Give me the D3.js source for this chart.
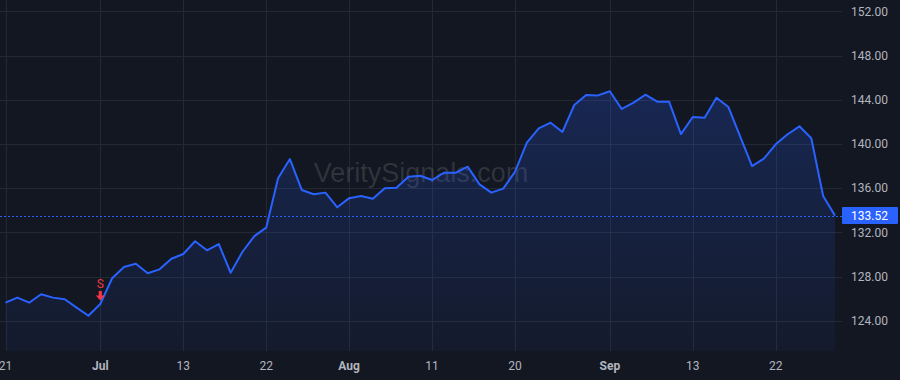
<!DOCTYPE html>
<html>
<head>
<meta charset="utf-8">
<script src="https://cdn.jsdelivr.net/npm/d3@7"></script>
<style>
  html, body { margin: 0; padding: 0; background: #131722; }
  svg { display: block; font-family: Roboto, "Liberation Sans", sans-serif; }
</style>
</head>
<body>
<div class="canvas"></div>
<script>
// daily closes, one per bar
const closes = [
  125.64, 126.10, 125.64, 126.40, 126.10, 125.95, 125.19, 124.46, 125.52, 127.85,
  128.87, 129.17, 128.30, 128.66, 129.62, 130.05, 131.20, 130.38, 130.95, 128.35,
  130.25, 131.67, 132.43, 136.90, 138.64, 135.84, 135.45, 135.60, 134.27, 135.10,
  135.30, 135.05, 135.99, 136.05, 137.04, 137.13, 136.74, 137.40, 137.40, 137.95,
  136.35, 135.60, 135.96, 137.50, 140.12, 141.42, 141.93, 141.09, 143.53, 144.43,
  144.40, 144.77, 143.17, 143.74, 144.46, 143.83, 143.83, 140.90, 142.44, 142.38,
  144.19, 143.35, 140.66, 138.00, 138.67, 139.97, 140.88, 141.60, 140.52, 135.29,
  133.52
];

// time axis: bar index of each tick and its label
const xTickBars = [0, 8, 15, 22, 29, 36, 43, 51, 58, 65];
const xTickLabels = ['21', 'Jul', '13', '22', 'Aug', '11', '20', 'Sep', '13', '22'];
const monthLabels = ['Jul', 'Aug', 'Sep'];

const priceTicks = [124, 128, 132, 136, 140, 144, 148, 152];
const lastPrice = 133.52;

// signal markers
const signalBars = [8];
const signalText = ['S'];

const dims = {width: 900, height: 380};
const plot = {right: 842, bottom: 351};

const svg = d3.select('.canvas')
  .append('svg')
  .attr('width', dims.width)
  .attr('height', dims.height);

svg.append('rect')
  .attr('width', dims.width)
  .attr('height', dims.height)
  .attr('fill', '#131722');

const x = d3.scaleLinear()
  .domain([0, closes.length - 1])
  .range([5.5, 835]);

const y = d3.scaleLinear()
  .domain([121.27, 153.03])
  .range([plot.bottom, 0]);

// gradient under the line
const defs = svg.append('defs');
const grad = defs.append('linearGradient')
  .attr('id', 'areaFill')
  .attr('x1', 0).attr('y1', 0).attr('x2', 0).attr('y2', 1);
grad.append('stop').attr('offset', '0%').attr('stop-color', '#2962ff').attr('stop-opacity', 0.22);
grad.append('stop').attr('offset', '100%').attr('stop-color', '#2962ff').attr('stop-opacity', 0.05);

// grid
const grid = svg.append('g');
grid.selectAll('line.h')
  .data(priceTicks)
  .enter().append('line')
    .attr('x1', 0).attr('x2', plot.right)
    .attr('y1', d => Math.round(y(d)) + 0.5)
    .attr('y2', d => Math.round(y(d)) + 0.5)
    .attr('stroke', '#242833');
grid.selectAll('line.v')
  .data(xTickBars)
  .enter().append('line')
    .attr('y1', 0).attr('y2', plot.bottom)
    .attr('x1', d => Math.round(x(d)) + 0.5)
    .attr('x2', d => Math.round(x(d)) + 0.5)
    .attr('stroke', '#242833');

// watermark
svg.append('text')
  .attr('x', plot.right / 2)
  .attr('y', 182)
  .attr('text-anchor', 'middle')
  .attr('font-size', 27)
  .attr('font-family', '"Liberation Sans", Arial, sans-serif')
  .attr('fill', '#ffffff')
  .attr('fill-opacity', 0.13)
  .text('VeritySignals.com');

const area = d3.area()
  .x((d, i) => x(i))
  .y0(plot.bottom)
  .y1(d => y(d));

const line = d3.line()
  .x((d, i) => x(i))
  .y(d => y(d));

svg.append('path')
  .datum(closes)
  .attr('d', area)
  .attr('fill', 'url(#areaFill)');

// last price dashed line
svg.append('line')
  .attr('x1', 0).attr('x2', plot.right)
  .attr('y1', Math.round(y(lastPrice)) + 0.5)
  .attr('y2', Math.round(y(lastPrice)) + 0.5)
  .attr('stroke', '#2962ff')
  .attr('stroke-dasharray', '2,2');

svg.append('path')
  .datum(closes)
  .attr('d', line)
  .attr('fill', 'none')
  .attr('stroke', '#2962ff')
  .attr('stroke-width', 2)
  .attr('stroke-linejoin', 'round');

// signal arrows
const sig = svg.selectAll('g.signal')
  .data(signalBars)
  .enter().append('g')
    .attr('transform', d => `translate(${x(d)}, ${y(closes[d]) - 3.5})`);
sig.append('path')
  .attr('d', 'M-1.6,-9.5 L1.6,-9.5 L1.6,-5 L4.5,-5 L0,0 L-4.5,-5 L-1.6,-5 Z')
  .attr('fill', '#f23645');
sig.append('text')
  .attr('y', -13)
  .attr('text-anchor', 'middle')
  .attr('font-size', 12)
  .attr('fill', '#f23645')
  .text((d, i) => signalText[i]);

// right price axis
svg.append('g')
  .selectAll('text')
  .data(priceTicks)
  .enter().append('text')
    .attr('x', 888)
    .attr('y', d => y(d))
    .attr('dy', '0.35em')
    .attr('text-anchor', 'end')
    .attr('font-size', 12)
    .attr('fill', '#b2b5be')
    .text(d => d.toFixed(2));

// last price tag
const tagY = y(lastPrice);
svg.append('rect')
  .attr('x', 842).attr('y', tagY - 8.5)
  .attr('width', 56).attr('height', 17)
  .attr('rx', 1)
  .attr('fill', '#2962ff');
svg.append('text')
  .attr('x', 888)
  .attr('y', tagY)
  .attr('dy', '0.35em')
  .attr('text-anchor', 'end')
  .attr('font-size', 12)
  .attr('fill', '#ffffff')
  .text(lastPrice.toFixed(2));

// bottom time axis
svg.append('g')
  .selectAll('text')
  .data(xTickBars)
  .enter().append('text')
    .attr('x', d => x(d))
    .attr('y', 370)
    .attr('text-anchor', 'middle')
    .attr('font-size', 12)
    .attr('font-weight', (d, i) => monthLabels.includes(xTickLabels[i]) ? 'bold' : 'normal')
    .attr('fill', '#b2b5be')
    .text((d, i) => xTickLabels[i]);
</script>
</body>
</html>
